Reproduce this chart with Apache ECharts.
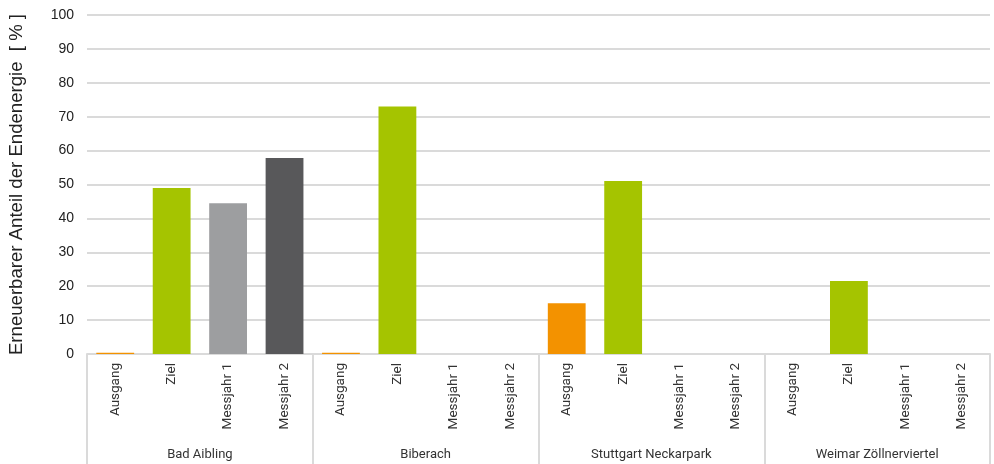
<!DOCTYPE html>
<html>
<head>
<meta charset="utf-8">
<script src="https://cdn.jsdelivr.net/npm/echarts@6/dist/echarts.min.js"></script>
<style>
  html, body { margin: 0; padding: 0; background: #fff; }
  #chart { width: 994px; height: 464px; }
</style>
</head>
<body>
<div id="chart"></div>
<script>
// Sites (outer category level) and phases (inner category level)
const sites = ['Bad Aibling', 'Biberach', 'Stuttgart Neckarpark', 'Weimar Zöllnerviertel'];
const phases = ['Ausgang', 'Ziel', 'Messjahr 1', 'Messjahr 2'];

// Renewable share of final energy [%] per phase, one entry per site
const ausgang   = [0.4, 0.4, 15, null];
const ziel      = [49, 73, 51, 21.5];
const messjahr1 = [44.5, null, null, null];
const messjahr2 = [57.8, null, null, null];

const yTicks = { min: 0, max: 100, interval: 10 };

const phaseValues = [ausgang, ziel, messjahr1, messjahr2];
const phaseColors = ['#f39200', '#a5c400', '#9d9ea0', '#58585a'];

// Flatten into the inner axis: site by site, phase by phase
const innerCats = [];
const barData = [];
sites.forEach((s, si) => {
  phases.forEach((p, pi) => {
    innerCats.push(s + '|' + p);
    barData.push({
      value: phaseValues[pi][si],
      itemStyle: { color: phaseColors[pi] }
    });
  });
});

const chart = echarts.init(document.getElementById('chart'), null, { renderer: 'canvas' });
const gridColor = '#dadada';

chart.setOption({
  animation: false,
  grid: { left: 87, right: 4, top: 15, bottom: 110, containLabel: false, outerBoundsMode: 'none' },
  xAxis: [
    {
      type: 'category',
      data: innerCats,
      position: 'bottom',
      axisLine: { show: true, lineStyle: { color: gridColor, width: 2 } },
      axisTick: { show: false },
      axisLabel: {
        interval: 0,
        rotate: 90,
        margin: 9,
        fontFamily: 'Roboto',
        fontSize: 13.5,
        color: '#333',
        formatter: v => v.split('|')[1]
      }
    },
    {
      type: 'category',
      data: sites,
      position: 'bottom',
      offset: 0,
      axisLine: { show: false },
      axisTick: { show: true, length: 112, lineStyle: { color: gridColor, width: 2 } },
      axisLabel: {
        interval: 0,
        margin: 94,
        fontFamily: 'Roboto',
        fontSize: 13,
        color: '#333'
      }
    }
  ],
  yAxis: {
    type: 'value',
    min: yTicks.min,
    max: yTicks.max,
    interval: yTicks.interval,
    name: 'Erneuerbarer Anteil der Endenergie  [ % ]',
    nameLocation: 'middle',
    nameGap: 61,
    nameTextStyle: { fontFamily: 'Liberation Sans', fontSize: 18.6, color: '#222' },
    axisLine: { show: false },
    axisTick: { show: false },
    axisLabel: { margin: 13, fontFamily: 'Liberation Sans', fontSize: 14, color: '#222' },
    splitLine: { lineStyle: { color: gridColor, width: 2 } }
  },
  series: [
    {
      type: 'bar',
      xAxisIndex: 0,
      data: barData,
      barWidth: '67%'
    }
  ]
});
</script>
</body>
</html>
